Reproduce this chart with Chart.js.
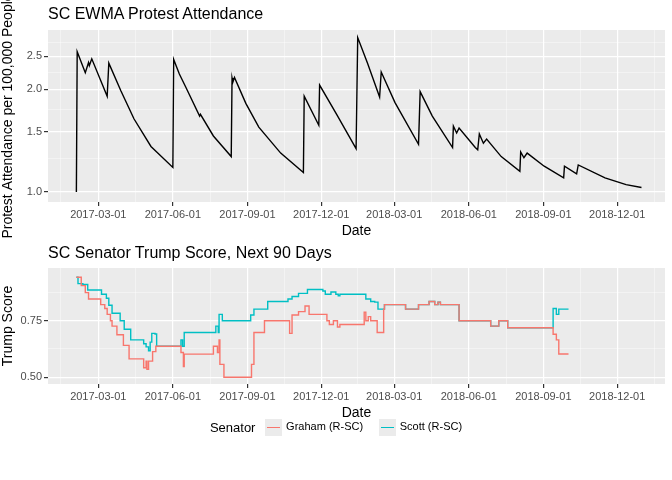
<!DOCTYPE html>
<html>
<head>
<meta charset="utf-8">
<script src="https://cdn.jsdelivr.net/npm/chart.js@4"></script>
<style>
  body { margin: 0; background: #fff; font-family: "Liberation Sans", Arial, sans-serif; }
  #wrap { width: 672px; height: 480px; position: relative; overflow: hidden; }
  .box { position: absolute; left: 0; width: 672px; }
  .ttl { position: absolute; left: 48px; font-size: 16px; color: #000; white-space: nowrap; }
  #legend { position: absolute; top: 419px; left: 0; width: 672px; text-align: center; font-size: 13px; color: #000; }
  #legend span.item { display: inline-block; vertical-align: middle; margin-left: 6px; font-size: 11px; }
  .key { display: inline-block; width: 17px; height: 17px; background: #EBEBEB; vertical-align: middle; position: relative; margin-right: 4px; }
  .key i { position: absolute; left: 2px; right: 2px; top: 8px; height: 1.4px; }
</style>
</head>
<body>
<div id="wrap">
  <div class="box" style="top:0;height:240px"><canvas id="top"></canvas></div>
  <div class="box" style="top:240px;height:182px"><canvas id="bottom"></canvas></div>
  <div class="ttl" style="top:5px">SC EWMA Protest Attendance</div>
  <div class="ttl" style="top:244px">SC Senator Trump Score, Next 90 Days</div>
  <div id="legend">
    <span style="vertical-align:middle">Senator</span>
    <span class="item"><span class="key"><i style="background:#F8766D"></i></span>Graham (R-SC)</span>
    <span class="item" style="margin-left:12px"><span class="key"><i style="background:#00BFC4"></i></span>Scott (R-SC)</span>
  </div>
</div>
<script>
// x values are days after 2017-03-01
const dateTicks = ['2017-03-01', '2017-06-01', '2017-09-01', '2017-12-01', '2018-03-01', '2018-06-01', '2018-09-01', '2018-12-01'];

const protestDays = [-27, -26, -16, -12, -11, -8, 11, 13, 28, 44, 65, 92, 93, 100, 108, 125, 126, 142, 164, 165, 166, 168,
  182, 198, 225, 253, 254, 272, 273, 294, 318, 320, 332, 347, 349, 366, 395, 397, 412, 437, 438, 442, 445,
  465, 468, 470, 475, 479, 497, 520, 521, 525, 529, 550, 574, 575, 590, 592, 625, 651, 670];
const protestValues = [1.0, 2.58, 2.24, 2.40, 2.35, 2.46, 1.91, 2.39, 1.98, 1.64, 1.36, 1.18, 2.45, 2.22, 2.03, 1.67, 1.69, 1.46, 1.27, 2.16, 2.10, 2.17,
  1.82, 1.55, 1.30, 1.14, 1.91, 1.57, 2.06, 1.69, 1.34, 2.84, 2.39, 1.90, 2.25, 1.83, 1.38, 1.97, 1.67, 1.35, 1.56, 1.49, 1.54,
  1.35, 1.33, 1.48, 1.39, 1.43, 1.27, 1.15, 1.31, 1.26, 1.30, 1.19, 1.10, 1.19, 1.13, 1.20, 1.10, 1.05, 1.03];
const protestTicks = [1.0, 1.5, 2.0, 2.5];
const protestMinor = [1.25, 1.75, 2.25, 2.75];

const grahamDays = [-27, -21, -16, -12, 0, 3, 8, 11, 15, 17, 23, 31, 38, 55, 56, 59, 60, 62, 67, 71, 102,
  105, 106, 142, 147, 149, 150, 155, 187, 189, 192, 205, 234, 236, 239, 247, 255, 260, 279, 282, 285,
  290, 295, 298, 326, 328, 330, 333, 336, 344, 351, 352,
  353, 379, 395, 408, 415, 419, 422, 440, 445, 483, 484, 494, 505, 558, 561, 565, 568, 580];
const grahamScores = [0.942, 0.905, 0.874, 0.846, 0.846, 0.821, 0.804, 0.778, 0.75, 0.726, 0.688,
  0.641, 0.581, 0.581, 0.542, 0.571, 0.535, 0.571, 0.613, 0.637, 0.609,
  0.547, 0.602, 0.637, 0.609, 0.665, 0.557, 0.50, 0.50, 0.557, 0.698,
  0.75, 0.75, 0.694, 0.775, 0.79, 0.815, 0.778, 0.778, 0.75, 0.733,
  0.75, 0.722, 0.733, 0.733, 0.787, 0.75, 0.768, 0.75, 0.698, 0.698, 0.801,
  0.821, 0.801, 0.821, 0.835, 0.821, 0.832, 0.821, 0.821, 0.75, 0.75, 0.726, 0.75, 0.719, 0.719, 0.69, 0.665, 0.603, 0.603];

const scottDays = [-27, -25, -19, -13, 0, 4, 10, 13, 17, 23, 27, 32, 40, 56, 59, 62, 64, 66, 70, 72,
  99, 102, 104, 106, 142, 145, 148, 149, 153, 185, 188, 192, 209, 234, 239, 247, 258, 277, 280, 287,
  293, 296, 298, 326, 330, 336, 341, 345, 352, 353, 379, 395, 408, 415, 419, 422, 440, 445, 483, 484,
  494, 505, 558, 561, 565, 568, 580];
const scottScores = [0.942, 0.914, 0.910, 0.886, 0.886, 0.867, 0.849, 0.818, 0.783, 0.783,
  0.75, 0.712, 0.665, 0.648, 0.634, 0.617, 0.655, 0.694, 0.691, 0.637,
  0.637, 0.665, 0.637, 0.698, 0.698, 0.726, 0.698, 0.778, 0.75, 0.75,
  0.775, 0.801, 0.835, 0.846, 0.857, 0.871, 0.888, 0.881, 0.867, 0.877,
  0.867, 0.86, 0.867, 0.867, 0.846, 0.835, 0.832, 0.801, 0.801, 0.821,
  0.801, 0.821, 0.835, 0.821, 0.832, 0.821, 0.821, 0.75, 0.75, 0.726,
  0.75, 0.719, 0.719, 0.804, 0.778, 0.801, 0.801];
const scoreTicks = [0.50, 0.75];
const scoreMinor = [0.625, 0.875];

const FONT = '"Liberation Sans", Arial, sans-serif';
const BASE = Date.UTC(2017, 2, 1);
function dayOf(s) {
  const p = s.split('-');
  return (Date.UTC(+p[0], +p[1] - 1, +p[2]) - BASE) / 86400000;
}
const majorX = dateTicks.map(dayOf);
const minorX = [];
for (let i = 0; i < majorX.length - 1; i++) minorX.push((majorX[i] + majorX[i + 1]) / 2);
minorX.unshift(majorX[0] - (majorX[1] - majorX[0]) / 2);
minorX.push(majorX[majorX.length - 1] + (majorX[1] - majorX[0]) / 2);

function zip(xs, ys) { return xs.map((x, i) => ({ x: x, y: ys[i] })); }

const panelBg = {
  id: 'panelBg',
  beforeDraw(chart) {
    const a = chart.chartArea, c = chart.ctx;
    c.save();
    c.fillStyle = '#EBEBEB';
    c.fillRect(a.left, a.top, a.right - a.left, a.bottom - a.top);
    c.restore();
  }
};

function gridSet(majors, minors) {
  return function(axis) {
    const t = majors.map(v => ({ value: v, major: true })).concat(minors.map(v => ({ value: v, major: false })));
    axis.ticks = t.filter(o => o.value >= axis.min && o.value <= axis.max);
  };
}
const gridOpts = {
  color: ctx => ctx.tick && ctx.tick.major ? '#FFFFFF' : 'rgba(255,255,255,0.7)',
  lineWidth: ctx => ctx.tick && ctx.tick.major ? 1.2 : 0.6,
  tickColor: ctx => ctx.tick && ctx.tick.major ? '#333333' : 'rgba(0,0,0,0)',
  tickLength: 4
};

function xScale() {
  return {
    type: 'linear', min: -62, max: 699,
    afterBuildTicks: gridSet(majorX, minorX),
    border: { display: false },
    grid: gridOpts,
    ticks: {
      autoSkip: false, maxRotation: 0, color: '#4D4D4D', font: { family: FONT, size: 11 }, padding: 2,
      callback: function(v) { const i = majorX.indexOf(v); return i >= 0 ? dateTicks[i] : ''; }
    },
    title: { display: true, text: 'Date', color: '#000', font: { family: FONT, size: 14 }, padding: { top: 0, bottom: 0 } }
  };
}

function yScale(type, min, max, majors, minors, label, fmt) {
  return {
    type: type, min: min, max: max,
    afterBuildTicks: gridSet(majors, minors),
    afterFit: function(s) { s.width = 48; },
    border: { display: false },
    grid: gridOpts,
    ticks: {
      autoSkip: false, color: '#4D4D4D', font: { family: FONT, size: 11 }, padding: 2,
      callback: function(v) { return majors.indexOf(v) >= 0 ? fmt(v) : ''; }
    },
    title: { display: true, text: label, color: '#000', font: { family: FONT, size: 14 }, padding: { top: 0, bottom: 2 } }
  };
}

new Chart(document.getElementById('top'), {
  type: 'line',
  data: { datasets: [{ data: zip(protestDays, protestValues), borderColor: '#000', borderWidth: 1.4, pointRadius: 0, tension: 0 }] },
  options: {
    responsive: true, maintainAspectRatio: false, animation: false,
    layout: { padding: { left: 0, right: 7, top: 30, bottom: 0 } },
    plugins: { legend: { display: false }, tooltip: { enabled: false } },
    scales: {
      x: xScale(),
      y: yScale('logarithmic', 0.934, 2.99, protestTicks, protestMinor, 'Protest Attendance per 100,000 People', v => v.toFixed(1))
    }
  },
  plugins: [panelBg]
});

new Chart(document.getElementById('bottom'), {
  type: 'line',
  data: { datasets: [
    { label: 'Graham (R-SC)', data: zip(grahamDays, grahamScores), borderColor: '#F8766D', borderWidth: 1.4, pointRadius: 0, stepped: true },
    { label: 'Scott (R-SC)', data: zip(scottDays, scottScores), borderColor: '#00BFC4', borderWidth: 1.4, pointRadius: 0, stepped: true }
  ] },
  options: {
    responsive: true, maintainAspectRatio: false, animation: false,
    layout: { padding: { left: 0, right: 7, top: 28, bottom: 0 } },
    plugins: { legend: { display: false }, tooltip: { enabled: false } },
    scales: {
      x: xScale(),
      y: yScale('linear', 0.47, 0.983, scoreTicks, scoreMinor, 'Trump Score', v => v.toFixed(2))
    }
  },
  plugins: [panelBg]
});
</script>
</body>
</html>
